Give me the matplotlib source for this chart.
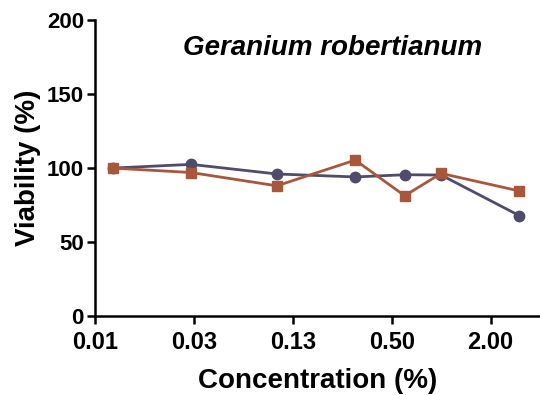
"""Viability of cells against concentration of Geranium robertianum extract."""

import matplotlib
matplotlib.use('Agg')
import matplotlib.pyplot as plt

plt.rcParams['font.family'] = ['Liberation Sans', 'DejaVu Sans']

# Data
concentration = [0.01, 0.03, 0.1, 0.3, 0.6, 1.0, 3.0]
series_a = [100, 102.5, 96, 94, 95.5, 95.3, 67.8]
series_b = [100, 97, 88, 105.4, 81.3, 96.4, 84.5]
x_ticks = [2 ** -7, 2 ** -5, 2 ** -3, 2 ** -1, 2 ** 1]
x_tick_labels = ['0.01', '0.03', '0.13', '0.50', '2.00']
y_ticks = [0, 50, 100, 150, 200]

fig = plt.figure(figsize=(5.4, 3.95), dpi=100)
ax = fig.add_axes([0.176, 0.2, 0.824, 0.749])

ax.plot(concentration, series_a, color='#4f4b6d', lw=2, marker='o', ms=7.5, clip_on=False)
ax.plot(concentration, series_b, color='#a9573c', lw=2, marker='s', ms=7.5, clip_on=False)

ax.set_xscale('log', base=2)
ax.set_xlim(2 ** -7, 2 ** 2)
ax.set_ylim(0, 200)
ax.set_xticks(x_ticks)
ax.set_xticklabels(x_tick_labels)
ax.minorticks_off()
ax.set_yticks(y_ticks)

for side in ['top', 'right']:
    ax.spines[side].set_visible(False)
for side in ['left', 'bottom']:
    ax.spines[side].set_linewidth(1.8)
ax.tick_params(width=1.8, length=6, labelsize=16, pad=2)
ax.tick_params(axis='x', labelsize=17, pad=5)
for lab in ax.get_xticklabels() + ax.get_yticklabels():
    lab.set_fontweight('bold')

ax.set_xlabel('Concentration (%)', fontsize=20, fontweight='bold', labelpad=10)
ax.set_ylabel('Viability (%)', fontsize=20, fontweight='bold', labelpad=4)
ax.text(0.534, 0.883, 'Geranium robertianum', transform=ax.transAxes, ha='center',
        fontsize=20, fontweight='bold', style='italic')

fig.savefig('out.png', dpi=100)
